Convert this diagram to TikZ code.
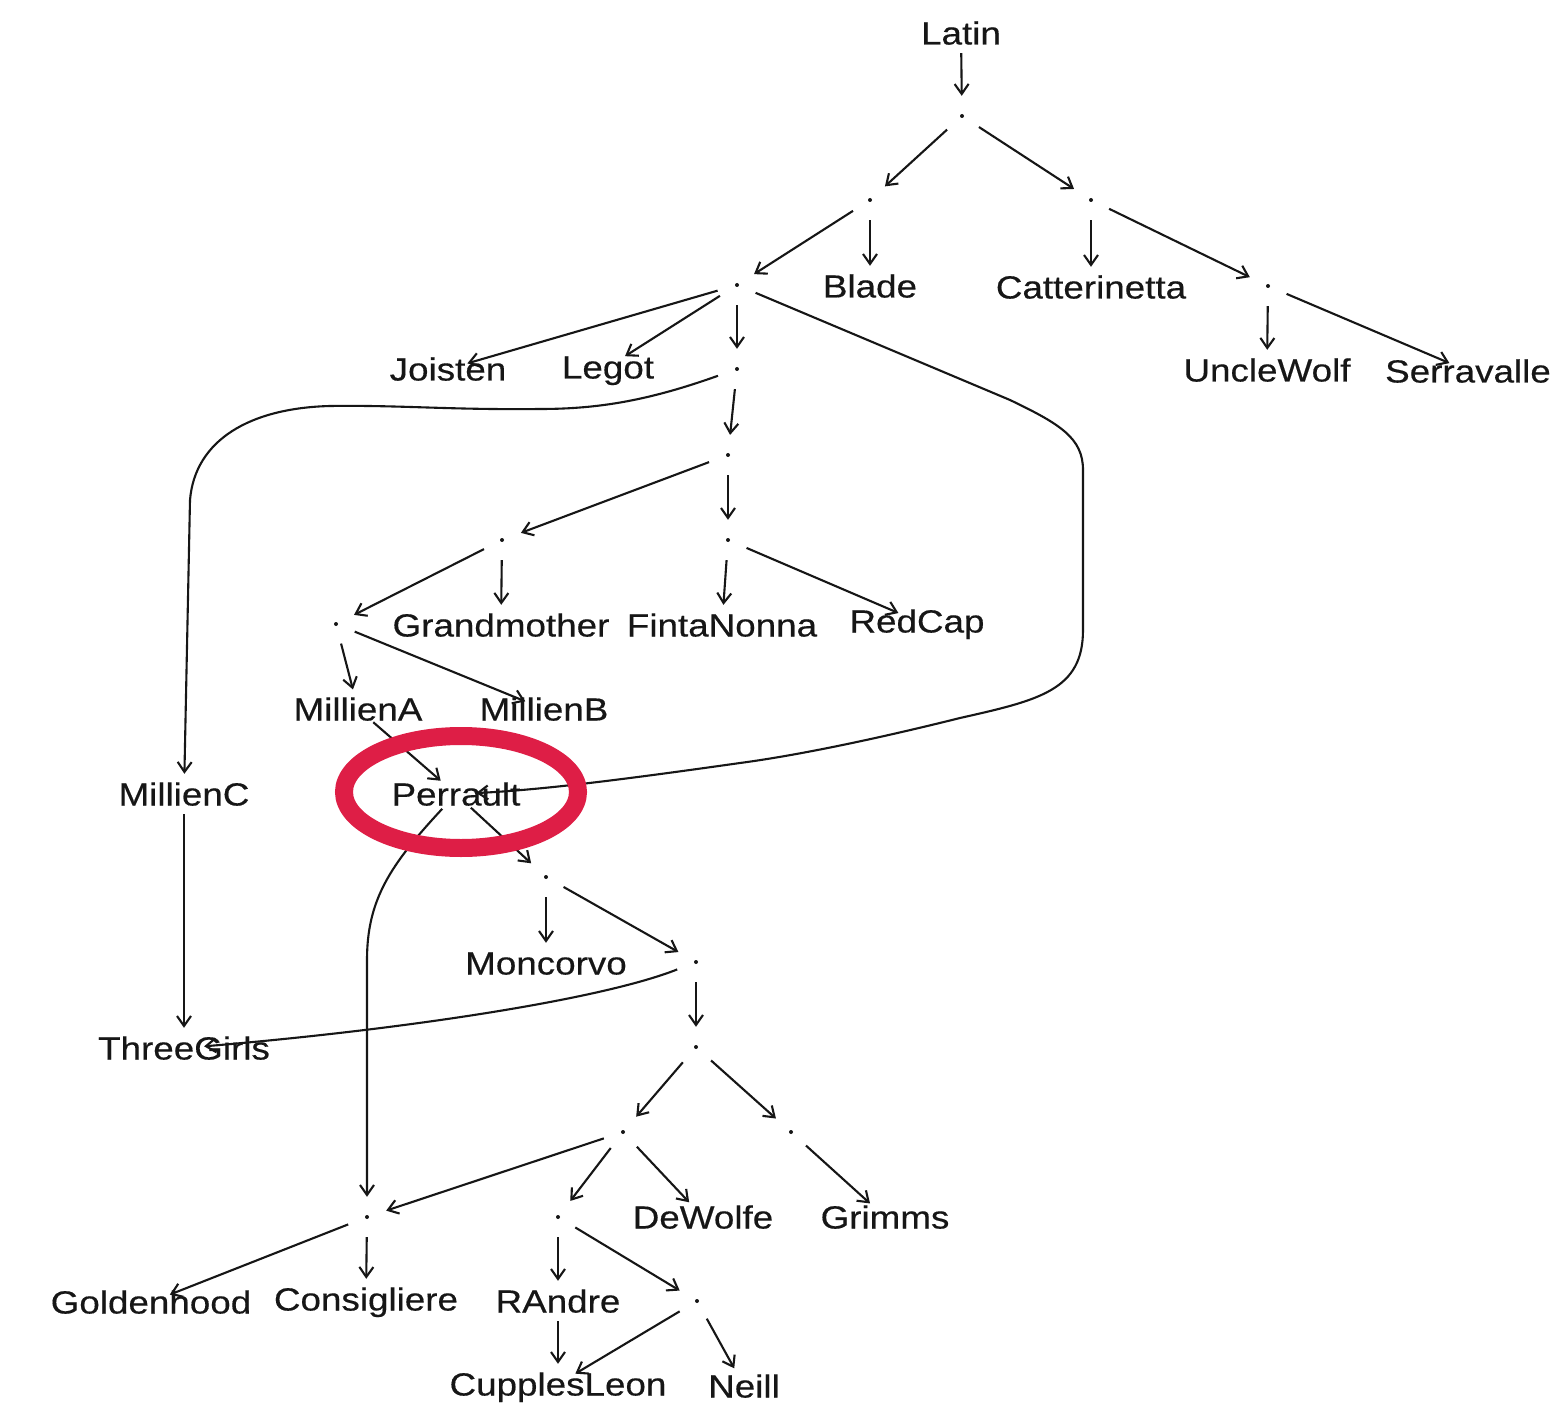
\documentclass[tikz,border=0pt]{standalone}
\usepackage{fontspec}
\setmainfont{Liberation Sans}[FakeStretch=1.15,FakeBold=0.4]
\usetikzlibrary{arrows.meta}
\definecolor{ink}{RGB}{22,22,22}
\definecolor{ring}{RGB}{222,30,70}
\begin{document}
\begin{tikzpicture}[x=1pt,y=-1pt,
  vtx/.style={circle,minimum size=40pt,inner sep=0pt},
  dotv/.style={vtx,path picture={\fill[ink] (path picture bounding box.center) circle (2pt);}},
  lab/.style={font=\fontsize{32}{36}\selectfont,text=ink,inner sep=0pt,text height=23pt,text depth=0pt},
  arr/.style={draw=ink,line width=2.1pt,-{Straight Barb[length=10pt,width=14pt]}}]
\path[use as bounding box,fill=white] (0,0) rectangle (1564,1412);

% labelled vertices
\node[vtx,label={[lab]center:Latin}] (Latin) at (961,33) {};
\node[vtx,label={[lab]center:Blade}] (Blade) at (870,286) {};
\node[vtx,label={[lab]center:Catterinetta}] (Catt) at (1091,287) {};
\node[vtx,label={[lab]center:UncleWolf}] (Uncle) at (1267,370) {};
\node[vtx,label={[lab]center:Serravalle}] (Serra) at (1468,371) {};
\node[vtx,label={[lab]center:Joisten}] (Joisten) at (448,369) {};
\node[vtx,label={[lab]center:Legot}] (Legot) at (608,367) {};
\node[vtx,label={[lab]center:Grandmother}] (Grand) at (501,625) {};
\node[vtx,label={[lab]center:FintaNonna}] (Finta) at (722,625) {};
\node[vtx,label={[lab]center:RedCap}] (RedCap) at (917,621) {};
\node[vtx,label={[lab]center:MillienA}] (MA) at (358,709) {};
\node[vtx,label={[lab]center:MillienB}] (MB) at (544,709) {};
\node[vtx,label={[lab]center:MillienC}] (MillienC) at (184,794) {};
\node[vtx,label={[lab]center:Perrault}] (Perrault) at (456,794) {};
\node[vtx,label={[lab]center:Moncorvo}] (Monc) at (546,963) {};
\node[vtx,label={[lab]center:ThreeGirls}] (Three) at (184,1048) {};
\node[vtx,label={[lab]center:DeWolfe}] (DeWolfe) at (703,1217) {};
\node[vtx,label={[lab]center:Grimms}] (Grimms) at (885,1217) {};
\node[vtx,label={[lab]center:Goldenhood}] (Golden) at (151,1302) {};
\node[vtx,label={[lab]center:Consigliere}] (Consig) at (366,1299) {};
\node[vtx,label={[lab]center:RAndre}] (RAndre) at (558,1301) {};
\node[vtx,label={[lab]center:CupplesLeon}] (Cupples) at (558,1384) {};
\node[vtx,label={[lab]center:Neill}] (Neill) at (744,1386) {};

% unlabelled vertices
\node[dotv] (d1) at (962,116) {};
\node[dotv] (d2) at (870,200) {};
\node[dotv] (d3) at (1091,200) {};
\node[dotv] (d4) at (737,285) {};
\node[dotv] (d5) at (1268,286) {};
\node[dotv] (d6) at (737,369) {};
\node[dotv] (d7) at (728,455) {};
\node[dotv] (d8) at (502,540) {};
\node[dotv] (d9) at (728,540) {};
\node[dotv] (d10) at (336,624) {};
\node[dotv] (d11) at (546,877) {};
\node[dotv] (d12) at (696,962) {};
\node[dotv] (d13) at (696,1047) {};
\node[dotv] (d14) at (623,1132) {};
\node[dotv] (d15) at (791,1132) {};
\node[dotv] (d16) at (367,1217) {};
\node[dotv] (d17) at (558,1217) {};
\node[dotv] (d18) at (697,1301) {};

% edges
\draw[arr] (Latin) -- (d1);
\draw[arr] (d1) -- (d2);
\draw[arr] (d1) -- (d3);
\draw[arr] (d2) -- (d4);
\draw[arr] (d2) -- (Blade);
\draw[arr] (d3) -- (Catt);
\draw[arr] (d3) -- (d5);
\draw[arr] (d5) -- (Uncle);
\draw[arr] (d5) -- (Serra);
\draw[arr] (d4) -- (Joisten);
\draw[arr] (d4) -- (Legot);
\draw[arr] (d4) -- (d6);
\draw[arr] (d4) -- (1010,400) .. controls (1060,424) and (1083,438) .. (1083,470) -- (1083,630)
  .. controls (1083,690) and (1040,700) .. (960,718) .. controls (880,738) and (800,755) .. (740,763)
  .. controls (620,780) and (540,790) .. (Perrault);
\draw[arr] (d6) .. controls (650,400) and (600,409) .. (540,409) .. controls (450,410) and (400,405) .. (330,406)
  .. controls (250,408) and (195,440) .. (190,500) -- (MillienC);
\draw[arr] (d6) -- (d7);
\draw[arr] (d7) -- (d8);
\draw[arr] (d7) -- (d9);
\draw[arr] (d8) -- (d10);
\draw[arr] (d8) -- (Grand);
\draw[arr] (d9) -- (Finta);
\draw[arr] (d9) -- (RedCap);
\draw[arr] (d10) -- (MA);
\draw[arr] (d10) -- (MB);
\draw[arr] (MA) -- (Perrault);
\draw[arr] (MillienC) -- (Three);
\draw[arr] (Perrault) -- (d11);
\draw[arr] (Perrault) .. controls (390,865) and (367,900) .. (367,960) -- (d16);
\draw[arr] (d11) -- (Monc);
\draw[arr] (d11) -- (d12);
\draw[arr] (d12) -- (d13);
\draw[arr] (d12) .. controls (600,1000) and (400,1030) .. (Three);
\draw[arr] (d13) -- (d14);
\draw[arr] (d13) -- (d15);
\draw[arr] (d14) -- (d16);
\draw[arr] (d14) -- (d17);
\draw[arr] (d14) -- (DeWolfe);
\draw[arr] (d15) -- (Grimms);
\draw[arr] (d16) -- (Golden);
\draw[arr] (d16) -- (Consig);
\draw[arr] (d17) -- (RAndre);
\draw[arr] (d17) -- (d18);
\draw[arr] (RAndre) -- (Cupples);
\draw[arr] (d18) -- (Cupples);
\draw[arr] (d18) -- (Neill);

% highlight ring
\draw[ring,line width=18pt] (461,792) ellipse [x radius=117,y radius=56];
\end{tikzpicture}
\end{document}
